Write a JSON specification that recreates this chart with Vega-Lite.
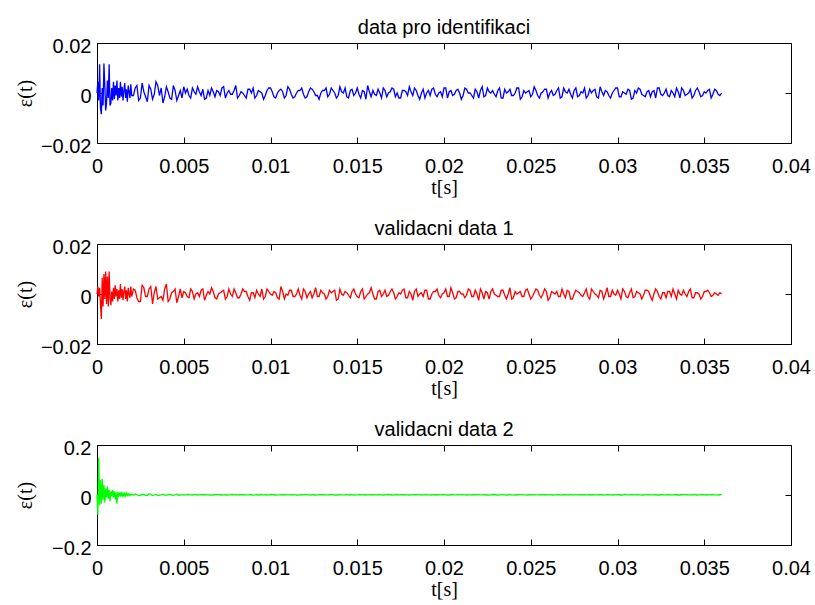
{
"$schema":"https://vega.github.io/schema/vega-lite/v6.json",
"autosize":{"type":"pad"},
"padding":{"left":14,"top":17,"right":0,"bottom":0},
"background":"white",
"spacing":101,
"bounds":"flush",
"config":{"view":{"stroke":"black","strokeWidth":1},"axis":{"grid":false,"domain":false,"labelFont":"Liberation Sans","labelFontSize":20,"labelColor":"black","tickColor":"black","tickSize":-6,"labelFlush":false,"labelOverlap":false,"titleFont":"Liberation Serif","titleFontSize":20,"titleFontWeight":"normal","titleColor":"black"},"title":{"font":"Liberation Sans","fontSize":20,"fontWeight":"normal","color":"black","offset":-2},"line":{"strokeWidth":1.3,"clip":true}},
"data":{"values":[
{"t":0,"a":0,"b":0,"c":0},
{"t":0.00005,"a":0.0045,"b":0.003,"c":-0.08},
{"t":0.0001,"a":-0.003,"b":-0.001,"c":0.15},
{"t":0.00015,"a":0.0115,"b":0.0025,"c":-0.04},
{"t":0.0002,"a":-0.006,"b":-0.004,"c":0.06},
{"t":0.00025,"a":-0.0085,"b":-0.01,"c":-0.035},
{"t":0.0003,"a":0.002,"b":0.0065,"c":0.065},
{"t":0.00035,"a":-0.005,"b":-0.005,"c":-0.02},
{"t":0.0004,"a":0.0118,"b":0.008,"c":0.04},
{"t":0.00045,"a":0.003,"b":-0.002,"c":-0.03},
{"t":0.0005,"a":-0.007,"b":0.009,"c":0.025},
{"t":0.00055,"a":-0.004,"b":-0.004,"c":-0.01},
{"t":0.0006,"a":0.005,"b":0.007,"c":0.035},
{"t":0.00065,"a":-0.002,"b":-0.005,"c":-0.015},
{"t":0.0007,"a":0.0115,"b":0.009,"c":0.02},
{"t":0.00075,"a":-0.005,"b":-0.0015,"c":-0.025},
{"t":0.0008,"a":-0.004,"b":-0.0045,"c":0.015},
{"t":0.00085,"a":0.002,"b":0.001,"c":-0.005},
{"t":0.0009,"a":-0.003,"b":-0.003,"c":0.02},
{"t":0.00095,"a":0.0045,"b":0.0025,"c":-0.01},
{"t":0.001,"a":-0.0025,"b":-0.002,"c":0.015},
{"t":0.00105,"a":0.003,"b":0.0035,"c":-0.018},
{"t":0.0011,"a":-0.001,"b":-0.001,"c":0.01},
{"t":0.00115,"a":0.005,"b":0.002,"c":-0.035},
{"t":0.0012,"a":-0.003,"b":-0.003,"c":0.012},
{"t":0.00125,"a":0.002,"b":0.0015,"c":-0.008},
{"t":0.0013,"a":-0.002,"b":-0.002,"c":0.01},
{"t":0.00135,"a":0.0045,"b":0.004,"c":-0.002},
{"t":0.0014,"a":-0.0015,"b":-0.0015,"c":0.008},
{"t":0.00145,"a":0.0025,"b":0.002,"c":-0.006},
{"t":0.0015,"a":-0.003,"b":-0.0025,"c":0.009},
{"t":0.00155,"a":0.001,"b":0.001,"c":-0.004},
{"t":0.0016,"a":0.004,"b":0.003,"c":0.006},
{"t":0.00165,"a":-0.002,"b":-0.002,"c":-0.003},
{"t":0.0017,"a":0.0015,"b":0.0015,"c":0.007},
{"t":0.00175,"a":-0.0035,"b":-0.003,"c":-0.002},
{"t":0.0018,"a":0.003,"b":0.0025,"c":0.005},
{"t":0.00185,"a":0.0005,"b":0,"c":-0.003},
{"t":0.0019,"a":-0.002,"b":-0.0015,"c":0.004},
{"t":0.00195,"a":0.0035,"b":0.003,"c":-0.001},
{"t":0.002,"a":-0.001,"b":-0.001,"c":0.003},
{"t":0.0021,"a":-0.001,"b":0.002,"c":-0.001},
{"t":0.0022,"a":0.002,"b":0.0015,"c":0.004},
{"t":0.0023,"a":0.003,"b":-0.0015,"c":0.002},
{"t":0.0024,"a":-0.003,"b":-0.003,"c":-0.002},
{"t":0.0025,"a":-0.002,"b":-0.003,"c":-0.0025},
{"t":0.0026,"a":0.004,"b":0.0035,"c":0.003},
{"t":0.0027,"a":0.0005,"b":0.0025,"c":0.0015},
{"t":0.0028,"a":-0.0015,"b":-0.001,"c":-0.001},
{"t":0.0029,"a":-0.0035,"b":-0.001,"c":-0.001},
{"t":0.003,"a":0.003,"b":0.002,"c":0.005},
{"t":0.0031,"a":0.0015,"b":0.003,"c":0.003},
{"t":0.0032,"a":-0.0025,"b":-0.004,"c":-0.002},
{"t":0.0033,"a":-0.0005,"b":0.0005,"c":0},
{"t":0.0034,"a":0.0045,"b":0.003,"c":0.002},
{"t":0.0035,"a":0.003,"b":-0.002,"c":-0.0015},
{"t":0.0036,"a":-0.001,"b":-0.0015,"c":-0.001},
{"t":0.0037,"a":0.002,"b":-0.001,"c":0.001},
{"t":0.0038,"a":-0.004,"b":-0.0025,"c":0.003},
{"t":0.0039,"a":-0.0015,"b":0.002,"c":-0.0005},
{"t":0.004,"a":0.0025,"b":0.004,"c":-0.0015},
{"t":0.0041,"a":0.0005,"b":-0.003,"c":0.0025},
{"t":0.0042,"a":-0.002,"b":-0.002,"c":0.002},
{"t":0.0043,"a":-0.0025,"b":0.0005,"c":0},
{"t":0.0044,"a":0.003,"b":0.001,"c":-0.001},
{"t":0.0045,"a":0.001,"b":0.002,"c":0.001},
{"t":0.0046,"a":-0.003,"b":-0.0035,"c":0.004},
{"t":0.0047,"a":-0.001,"b":-0.001,"c":-0.001},
{"t":0.0048,"a":0.001,"b":0.002,"c":0},
{"t":0.0049,"a":-0.002,"b":-0.0015,"c":0.0005},
{"t":0.005,"a":0.0025,"b":0.001,"c":0.0015},
{"t":0.0051,"a":0,"b":0.0005,"c":0.0005},
{"t":0.0052,"a":0.0015,"b":-0.001,"c":0.001},
{"t":0.0053,"a":-0.001,"b":-0.0015,"c":0.001},
{"t":0.0054,"a":-0.002,"b":0.002,"c":0.0005},
{"t":0.0055,"a":0.002,"b":0.001,"c":0},
{"t":0.0056,"a":0.0005,"b":-0.002,"c":0.0015},
{"t":0.0057,"a":-0.0005,"b":0,"c":0.0015},
{"t":0.0058,"a":0.0025,"b":0.0005,"c":0},
{"t":0.0059,"a":0.0005,"b":-0.001,"c":0.0005},
{"t":0.006,"a":-0.001,"b":0.0015,"c":0.001},
{"t":0.0061,"a":0.0015,"b":0.002,"c":0.001},
{"t":0.0062,"a":-0.0025,"b":-0.0025,"c":0.002},
{"t":0.0063,"a":-0.002,"b":-0.0005,"c":0.0005},
{"t":0.0064,"a":0.001,"b":0.001,"c":0.0005},
{"t":0.0065,"a":-0.001,"b":0,"c":0},
{"t":0.0066,"a":0.002,"b":0.0025,"c":-0.0005},
{"t":0.0067,"a":0.0005,"b":0.001,"c":0.001},
{"t":0.0068,"a":-0.0015,"b":-0.0015,"c":0.001},
{"t":0.0069,"a":0.001,"b":-0.002,"c":0.0015},
{"t":0.007,"a":0.0005,"b":0,"c":0.0015},
{"t":0.0071,"a":-0.001,"b":0.0005,"c":0.001},
{"t":0.0072,"a":0.002,"b":0.001,"c":0},
{"t":0.0073,"a":0.0025,"b":0.0015,"c":0.0005},
{"t":0.0074,"a":-0.002,"b":-0.002,"c":0.001},
{"t":0.0075,"a":0,"b":-0.001,"c":0},
{"t":0.0076,"a":0.001,"b":0.002,"c":0.0005},
{"t":0.0077,"a":-0.0005,"b":0,"c":0.001},
{"t":0.0078,"a":-0.0005,"b":-0.001,"c":0.002},
{"t":0.0079,"a":0.001,"b":0.002,"c":0.0005},
{"t":0.008,"a":0.003,"b":0.0005,"c":0.001},
{"t":0.0081,"a":-0.002,"b":-0.0015,"c":0.0015},
{"t":0.0082,"a":-0.001,"b":-0.0015,"c":0},
{"t":0.0083,"a":0.0005,"b":0,"c":0.001},
{"t":0.0084,"a":0,"b":0.002,"c":0.0015},
{"t":0.0085,"a":-0.001,"b":0.001,"c":0},
{"t":0.0086,"a":-0.002,"b":0.001,"c":0.0005},
{"t":0.0087,"a":0.0015,"b":-0.001,"c":0.0005},
{"t":0.0088,"a":0.0015,"b":-0.0025,"c":0.001},
{"t":0.0089,"a":0,"b":0.0005,"c":0.001},
{"t":0.009,"a":0.002,"b":0.0005,"c":-0.0005},
{"t":0.0091,"a":-0.002,"b":-0.0015,"c":0.0005},
{"t":0.0092,"a":-0.001,"b":0.0015,"c":0.001},
{"t":0.0093,"a":0.001,"b":0,"c":0},
{"t":0.0094,"a":0.0005,"b":-0.001,"c":0.0015},
{"t":0.0095,"a":0,"b":0.002,"c":0.001},
{"t":0.0096,"a":-0.0025,"b":-0.002,"c":0.0005},
{"t":0.0097,"a":-0.001,"b":-0.001,"c":0.0015},
{"t":0.0098,"a":0.001,"b":0.002,"c":0},
{"t":0.0099,"a":0.002,"b":0.001,"c":0.0005},
{"t":0.01,"a":0.002,"b":0,"c":0.002},
{"t":0.0101,"a":0.0005,"b":-0.0005,"c":0.001},
{"t":0.0102,"a":-0.0015,"b":0.001,"c":0.001},
{"t":0.0103,"a":-0.002,"b":0.0005,"c":0},
{"t":0.0104,"a":0,"b":-0.0015,"c":0.0005},
{"t":0.0105,"a":0.001,"b":-0.002,"c":0.0005},
{"t":0.0106,"a":0.0015,"b":0.003,"c":0.001},
{"t":0.0107,"a":0.0005,"b":0.001,"c":0.001},
{"t":0.0108,"a":-0.002,"b":-0.002,"c":0},
{"t":0.0109,"a":-0.001,"b":0,"c":0.0015},
{"t":0.011,"a":0.0025,"b":-0.0005,"c":0.0015},
{"t":0.0111,"a":0.0015,"b":0.0015,"c":0.0005},
{"t":0.0112,"a":-0.0005,"b":0.0015,"c":0.001},
{"t":0.0113,"a":-0.002,"b":-0.001,"c":0.001},
{"t":0.0114,"a":-0.0015,"b":-0.001,"c":0.0005},
{"t":0.0115,"a":0,"b":0,"c":0},
{"t":0.0116,"a":0.001,"b":0.002,"c":-0.0005},
{"t":0.0117,"a":0.001,"b":-0.0005,"c":0.001},
{"t":0.0118,"a":0.002,"b":-0.002,"c":0.001},
{"t":0.0119,"a":-0.0005,"b":0.002,"c":0.0005},
{"t":0.012,"a":-0.002,"b":0.001,"c":0.002},
{"t":0.0121,"a":-0.0015,"b":-0.0015,"c":0.0015},
{"t":0.0122,"a":0.0005,"b":0,"c":0.0005},
{"t":0.0123,"a":0.002,"b":0.001,"c":0},
{"t":0.0124,"a":0.0015,"b":-0.0015,"c":0.001},
{"t":0.0125,"a":0.0005,"b":0,"c":0.001},
{"t":0.0126,"a":-0.001,"b":0.0025,"c":0},
{"t":0.0127,"a":-0.001,"b":-0.001,"c":0.0005},
{"t":0.0128,"a":-0.0025,"b":-0.001,"c":0.0015},
{"t":0.0129,"a":0,"b":0.0015,"c":0.001},
{"t":0.013,"a":0.001,"b":0.0005,"c":0.001},
{"t":0.0131,"a":0.001,"b":0,"c":0.001},
{"t":0.0132,"a":0.002,"b":-0.002,"c":0.0005},
{"t":0.0133,"a":-0.0015,"b":-0.001,"c":0.0005},
{"t":0.0134,"a":-0.0005,"b":0.0015,"c":0.001},
{"t":0.0135,"a":0.002,"b":0.0005,"c":0.0015},
{"t":0.0136,"a":0.001,"b":0.001,"c":0.0015},
{"t":0.0137,"a":0,"b":0.0015,"c":0},
{"t":0.0138,"a":-0.002,"b":-0.0025,"c":0},
{"t":0.0139,"a":-0.001,"b":-0.002,"c":0.001},
{"t":0.014,"a":0.0025,"b":0.002,"c":0.001},
{"t":0.0141,"a":0.0005,"b":0,"c":0.0005},
{"t":0.0142,"a":0,"b":-0.0005,"c":0.0005},
{"t":0.0143,"a":0.002,"b":0.001,"c":0.001},
{"t":0.0144,"a":-0.0015,"b":0.0005,"c":0.002},
{"t":0.0145,"a":-0.002,"b":-0.0005,"c":0},
{"t":0.0146,"a":0.001,"b":-0.0015,"c":0.001},
{"t":0.0147,"a":0.0015,"b":0.001,"c":0.0015},
{"t":0.0148,"a":-0.001,"b":0.002,"c":0},
{"t":0.0149,"a":0,"b":0,"c":0.0005},
{"t":0.015,"a":0.002,"b":-0.001,"c":0.0005},
{"t":0.0151,"a":-0.0005,"b":-0.0015,"c":0.001},
{"t":0.0152,"a":-0.002,"b":0.001,"c":0.0015},
{"t":0.0153,"a":0.001,"b":0.002,"c":0.0005},
{"t":0.0154,"a":0.0005,"b":-0.002,"c":0.001},
{"t":0.0155,"a":-0.0025,"b":-0.001,"c":0},
{"t":0.0156,"a":0.003,"b":0,"c":0.0005},
{"t":0.0157,"a":0.0005,"b":0.0005,"c":0.001},
{"t":0.0158,"a":-0.0015,"b":0.0025,"c":0},
{"t":0.0159,"a":0.001,"b":0,"c":0.0015},
{"t":0.016,"a":-0.0005,"b":-0.002,"c":0.001},
{"t":0.0161,"a":-0.001,"b":-0.002,"c":0.0005},
{"t":0.0162,"a":0.0015,"b":0.001,"c":0.0015},
{"t":0.0163,"a":0,"b":0.0015,"c":0.001},
{"t":0.0164,"a":-0.002,"b":-0.001,"c":0.0005},
{"t":0.0165,"a":0.002,"b":0,"c":0},
{"t":0.0166,"a":0.001,"b":0.0015,"c":0.001},
{"t":0.0167,"a":-0.0015,"b":-0.001,"c":0.0005},
{"t":0.0168,"a":0,"b":-0.0005,"c":0.002},
{"t":0.0169,"a":0.0005,"b":0.001,"c":0.001},
{"t":0.017,"a":0.002,"b":0.002,"c":0},
{"t":0.0171,"a":0.0015,"b":0.0005,"c":0.0005},
{"t":0.0172,"a":-0.0015,"b":-0.002,"c":0.001},
{"t":0.0173,"a":0,"b":-0.001,"c":0.0015},
{"t":0.0174,"a":-0.002,"b":0.0005,"c":0.0005},
{"t":0.0175,"a":-0.002,"b":0,"c":0.001},
{"t":0.0176,"a":0.001,"b":0.0015,"c":0.001},
{"t":0.0177,"a":0.001,"b":0.002,"c":0},
{"t":0.0178,"a":0.0005,"b":-0.0015,"c":0.0015},
{"t":0.0179,"a":-0.001,"b":-0.0015,"c":0.0005},
{"t":0.018,"a":0.0025,"b":0.001,"c":0},
{"t":0.0181,"a":0.0005,"b":0,"c":0.001},
{"t":0.0182,"a":-0.001,"b":-0.0025,"c":0.0005},
{"t":0.0183,"a":0.002,"b":0.001,"c":0.0015},
{"t":0.0184,"a":0.001,"b":0.002,"c":0.001},
{"t":0.0185,"a":-0.001,"b":-0.001,"c":0.0005},
{"t":0.0186,"a":-0.0025,"b":0,"c":0.002},
{"t":0.0187,"a":0,"b":0.0005,"c":0},
{"t":0.0188,"a":0.0015,"b":-0.001,"c":0.0005},
{"t":0.0189,"a":-0.002,"b":0.0015,"c":0.001},
{"t":0.019,"a":0,"b":0.0015,"c":0.001},
{"t":0.0191,"a":0.001,"b":-0.002,"c":0.0005},
{"t":0.0192,"a":-0.001,"b":-0.002,"c":0},
{"t":0.0193,"a":0.0015,"b":0,"c":0.001},
{"t":0.0194,"a":0.002,"b":0.001,"c":0.0015},
{"t":0.0195,"a":-0.0005,"b":0.001,"c":0},
{"t":0.0196,"a":-0.0015,"b":0.002,"c":0.001},
{"t":0.0197,"a":0,"b":-0.0005,"c":0.0015},
{"t":0.0198,"a":0.0005,"b":-0.0015,"c":0.0005},
{"t":0.0199,"a":-0.0015,"b":0,"c":0.001},
{"t":0.02,"a":0.002,"b":0.0005,"c":0.001},
{"t":0.0201,"a":0.002,"b":0.002,"c":0.0005},
{"t":0.0202,"a":-0.002,"b":-0.001,"c":0},
{"t":0.0203,"a":0.0005,"b":-0.001,"c":0},
{"t":0.0204,"a":0.001,"b":0.0025,"c":0.0015},
{"t":0.0205,"a":-0.001,"b":0.0005,"c":0.001},
{"t":0.0206,"a":-0.0005,"b":-0.002,"c":0.0005},
{"t":0.0207,"a":0.001,"b":-0.0015,"c":0.0005},
{"t":0.0208,"a":0.0015,"b":0.001,"c":0.001},
{"t":0.0209,"a":0,"b":0.001,"c":0.0015},
{"t":0.021,"a":-0.0025,"b":0,"c":0.002},
{"t":0.0211,"a":-0.001,"b":0,"c":0.001},
{"t":0.0212,"a":0.002,"b":-0.0015,"c":0.0005},
{"t":0.0213,"a":0.0015,"b":-0.0005,"c":0},
{"t":0.0214,"a":0,"b":0.002,"c":0.001},
{"t":0.0215,"a":0,"b":0.0015,"c":0.0005},
{"t":0.0216,"a":-0.001,"b":-0.001,"c":0},
{"t":0.0217,"a":-0.002,"b":-0.001,"c":0.001},
{"t":0.0218,"a":0.0015,"b":0.0015,"c":0.001},
{"t":0.0219,"a":0.0005,"b":0,"c":0.0015},
{"t":0.022,"a":-0.002,"b":-0.0025,"c":0.0015},
{"t":0.0221,"a":0.001,"b":0.002,"c":0.0005},
{"t":0.0222,"a":0.0025,"b":0.0005,"c":0.0005},
{"t":0.0223,"a":-0.0015,"b":-0.002,"c":0.001},
{"t":0.0224,"a":-0.001,"b":0.001,"c":0.001},
{"t":0.0225,"a":0.002,"b":0.0005,"c":0},
{"t":0.0226,"a":0.0005,"b":-0.002,"c":0},
{"t":0.0227,"a":0,"b":0.001,"c":0.0005},
{"t":0.0228,"a":0.001,"b":0.002,"c":0.002},
{"t":0.0229,"a":-0.0005,"b":0,"c":0.001},
{"t":0.023,"a":-0.0015,"b":-0.0005,"c":0.001},
{"t":0.0231,"a":0.001,"b":-0.001,"c":0},
{"t":0.0232,"a":0.002,"b":-0.001,"c":0.0005},
{"t":0.0233,"a":-0.002,"b":0.0015,"c":0.0015},
{"t":0.0234,"a":-0.002,"b":0.0015,"c":0.0015},
{"t":0.0235,"a":0.0015,"b":-0.0005,"c":0.0005},
{"t":0.0236,"a":0,"b":-0.002,"c":0},
{"t":0.0237,"a":0.0005,"b":0,"c":0.001},
{"t":0.0238,"a":0.0015,"b":0.0025,"c":0.001},
{"t":0.0239,"a":-0.001,"b":-0.002,"c":0.0005},
{"t":0.024,"a":-0.001,"b":-0.0015,"c":0.0005},
{"t":0.0241,"a":0,"b":0.001,"c":0},
{"t":0.0242,"a":0.002,"b":0,"c":0.001},
{"t":0.0243,"a":0.002,"b":0.0005,"c":0.001},
{"t":0.0244,"a":-0.0025,"b":0.001,"c":0.0015},
{"t":0.0245,"a":-0.0015,"b":-0.001,"c":0.0015},
{"t":0.0246,"a":0.001,"b":-0.001,"c":0.0005},
{"t":0.0247,"a":0,"b":0.0015,"c":0.0005},
{"t":0.0248,"a":0.0005,"b":0.002,"c":0},
{"t":0.0249,"a":0.001,"b":0,"c":0.001},
{"t":0.025,"a":-0.0015,"b":-0.002,"c":0.001},
{"t":0.0251,"a":-0.0005,"b":-0.001,"c":0},
{"t":0.0252,"a":0.0025,"b":0.0005,"c":0.002},
{"t":0.0253,"a":0.001,"b":0.002,"c":0.0005},
{"t":0.0254,"a":-0.001,"b":0.0015,"c":0.0005},
{"t":0.0255,"a":-0.002,"b":-0.0005,"c":0.001},
{"t":0.0256,"a":0,"b":-0.0015,"c":0.001},
{"t":0.0257,"a":0.0005,"b":0,"c":0.0015},
{"t":0.0258,"a":0.0015,"b":0.002,"c":0},
{"t":0.0259,"a":0.0015,"b":0.001,"c":0.001},
{"t":0.026,"a":-0.002,"b":-0.0025,"c":0.0015},
{"t":0.0261,"a":0,"b":-0.0015,"c":0.0005},
{"t":0.0262,"a":0.001,"b":0.001,"c":0.001},
{"t":0.0263,"a":-0.001,"b":0.0005,"c":0},
{"t":0.0264,"a":-0.0005,"b":0,"c":0.0005},
{"t":0.0265,"a":0.001,"b":0.001,"c":0.001},
{"t":0.0266,"a":0.002,"b":-0.001,"c":0.001},
{"t":0.0267,"a":-0.002,"b":-0.001,"c":0.0005},
{"t":0.0268,"a":-0.0015,"b":0.002,"c":0},
{"t":0.0269,"a":0.002,"b":0,"c":0.0015},
{"t":0.027,"a":0.0005,"b":-0.0015,"c":0.001},
{"t":0.0271,"a":0,"b":0.0015,"c":0.0005},
{"t":0.0272,"a":0.0015,"b":0.001,"c":0.0015},
{"t":0.0273,"a":-0.0005,"b":-0.002,"c":0.001},
{"t":0.0274,"a":-0.002,"b":-0.002,"c":0.0005},
{"t":0.0275,"a":0.001,"b":0,"c":0},
{"t":0.0276,"a":0.002,"b":0.0015,"c":0.002},
{"t":0.0277,"a":-0.0015,"b":0.001,"c":0.0005},
{"t":0.0278,"a":-0.001,"b":0.0005,"c":0.001},
{"t":0.0279,"a":0.0005,"b":-0.0005,"c":0.001},
{"t":0.028,"a":0,"b":-0.001,"c":0},
{"t":0.0281,"a":0.002,"b":0.0005,"c":0.0015},
{"t":0.0282,"a":-0.002,"b":0.002,"c":0.0005},
{"t":0.0283,"a":-0.001,"b":-0.001,"c":0.001},
{"t":0.0284,"a":0.0015,"b":-0.002,"c":0.001},
{"t":0.0285,"a":0,"b":0.002,"c":0},
{"t":0.0286,"a":0.001,"b":0.001,"c":0.0015},
{"t":0.0287,"a":0.0015,"b":0,"c":0.0005},
{"t":0.0288,"a":-0.0015,"b":-0.0005,"c":0.0005},
{"t":0.0289,"a":-0.002,"b":-0.0015,"c":0.001},
{"t":0.029,"a":0.0025,"b":0.0015,"c":0.001},
{"t":0.0291,"a":0.0005,"b":0.001,"c":0.0015},
{"t":0.0292,"a":-0.001,"b":-0.002,"c":0},
{"t":0.0293,"a":0.001,"b":0,"c":0.0005},
{"t":0.0294,"a":0.0005,"b":0.0025,"c":0.001},
{"t":0.0295,"a":-0.001,"b":-0.001,"c":0.001},
{"t":0.0296,"a":-0.002,"b":-0.001,"c":0.0005},
{"t":0.0297,"a":0,"b":0.0015,"c":0},
{"t":0.0298,"a":0.001,"b":0,"c":0.0015},
{"t":0.0299,"a":0.002,"b":-0.0005,"c":0.0005},
{"t":0.03,"a":0.002,"b":0.0015,"c":0.001},
{"t":0.0301,"a":-0.0015,"b":0,"c":0.001},
{"t":0.0302,"a":-0.0015,"b":-0.002,"c":0},
{"t":0.0303,"a":0.0005,"b":0.002,"c":0},
{"t":0.0304,"a":0,"b":0.001,"c":0.002},
{"t":0.0305,"a":-0.0005,"b":-0.001,"c":0.0015},
{"t":0.0306,"a":0.0015,"b":-0.0015,"c":0.0005},
{"t":0.0307,"a":0.001,"b":0.0005,"c":0.0005},
{"t":0.0308,"a":-0.0025,"b":0.002,"c":0.001},
{"t":0.0309,"a":-0.002,"b":-0.0015,"c":0.001},
{"t":0.031,"a":0.001,"b":-0.001,"c":0.0005},
{"t":0.0311,"a":0,"b":0.001,"c":0.001},
{"t":0.0312,"a":0.002,"b":0.0005,"c":0.001},
{"t":0.0313,"a":0.0015,"b":0,"c":0.0005},
{"t":0.0314,"a":-0.0005,"b":-0.002,"c":0},
{"t":0.0315,"a":-0.001,"b":-0.0005,"c":0},
{"t":0.0316,"a":-0.0015,"b":0.0015,"c":0.0015},
{"t":0.0317,"a":0.0005,"b":0.0015,"c":0.0015},
{"t":0.0318,"a":0.001,"b":0.001,"c":0.001},
{"t":0.0319,"a":-0.0015,"b":-0.001,"c":0.0005},
{"t":0.032,"a":0.0005,"b":-0.0025,"c":0.0005},
{"t":0.0321,"a":0.001,"b":0,"c":0.001},
{"t":0.0322,"a":-0.002,"b":0.002,"c":0.001},
{"t":0.0323,"a":0.002,"b":0.001,"c":0},
{"t":0.0324,"a":0.002,"b":-0.001,"c":0},
{"t":0.0325,"a":-0.0005,"b":-0.002,"c":0.001},
{"t":0.0326,"a":-0.001,"b":0.0005,"c":0.0015},
{"t":0.0327,"a":0,"b":0.0005,"c":0.0005},
{"t":0.0328,"a":0.0015,"b":-0.0015,"c":0.0005},
{"t":0.0329,"a":-0.001,"b":0.001,"c":0.0015},
{"t":0.033,"a":-0.0015,"b":0.001,"c":0.001},
{"t":0.0331,"a":0.001,"b":-0.001,"c":0.0005},
{"t":0.0332,"a":0,"b":0.002,"c":0.0005},
{"t":0.0333,"a":-0.0015,"b":0,"c":0.001},
{"t":0.0334,"a":0.002,"b":-0.002,"c":0.001},
{"t":0.0335,"a":0.0005,"b":0.0015,"c":0},
{"t":0.0336,"a":-0.002,"b":0,"c":0},
{"t":0.0337,"a":0.002,"b":-0.0005,"c":0.001},
{"t":0.0338,"a":0.001,"b":0.0015,"c":0.0015},
{"t":0.0339,"a":-0.001,"b":0,"c":0.0015},
{"t":0.034,"a":-0.0005,"b":-0.001,"c":0.001},
{"t":0.0341,"a":0,"b":0.001,"c":0.0005},
{"t":0.0342,"a":0.0015,"b":0.002,"c":0.0005},
{"t":0.0343,"a":-0.002,"b":-0.0015,"c":0},
{"t":0.0344,"a":-0.001,"b":-0.0015,"c":0.002},
{"t":0.0345,"a":0.001,"b":0.0005,"c":0.001},
{"t":0.0346,"a":0.002,"b":0.0005,"c":0},
{"t":0.0347,"a":0.0005,"b":0,"c":0.0005},
{"t":0.0348,"a":-0.0015,"b":-0.002,"c":0.001},
{"t":0.0349,"a":-0.001,"b":-0.001,"c":0.001},
{"t":0.035,"a":0.0005,"b":0.001,"c":0.0005},
{"t":0.0351,"a":0,"b":0.001,"c":0},
{"t":0.0352,"a":0.001,"b":0.0015,"c":0.001},
{"t":0.0353,"a":0.0015,"b":0.0005,"c":0.0005},
{"t":0.0354,"a":-0.002,"b":-0.001,"c":0.0015},
{"t":0.0355,"a":-0.0005,"b":-0.0005,"c":0.001},
{"t":0.0356,"a":0.0015,"b":0.0005,"c":0.0005},
{"t":0.0357,"a":0.001,"b":0,"c":0.0005},
{"t":0.0358,"a":-0.0005,"b":-0.0005,"c":0},
{"t":0.0359,"a":-0.001,"b":0.0005,"c":0.001},
{"t":0.036,"a":0,"b":0,"c":0.001}
]},
"vconcat":[
{"title":{"text":"data pro identifikaci"},"width":694,"height":100,
 "layer":[
  {"mark":{"type":"line","color":"#0000ff"},
   "encoding":{"x":{"field":"t","type":"quantitative","scale":{"domain":[0,0.04],"nice":false,"zero":false},"axis":{"orient":"bottom","values":[0,0.005,0.01,0.015,0.02,0.025,0.03,0.035,0.04],"format":"~g","labelPadding":19,"title":"t[s]","titleX":347,"titleY":44,"titleBaseline":"middle","titleAlign":"center"}},
               "y":{"field":"a","type":"quantitative","scale":{"domain":[-0.02,0.02],"nice":false},"axis":{"orient":"left","values":[-0.02,0,0.02],"format":"~g","labelPadding":12,"labelOffset":3,"title":"ε(t)","titleX":-72,"titleY":50,"titleAngle":270,"titleAlign":"center","titleBaseline":"middle"}},
               "order":{"field":"t","type":"quantitative"}}},
  {"mark":{"type":"line","opacity":0},
   "encoding":{"x":{"field":"t","type":"quantitative","axis":{"orient":"top","values":[0,0.005,0.01,0.015,0.02,0.025,0.03,0.035,0.04],"labels":false,"title":null}},
               "y":{"field":"a","type":"quantitative","axis":{"orient":"right","values":[-0.02,0,0.02],"labels":false,"title":null}}}}
 ],
 "resolve":{"axis":{"x":"independent","y":"independent"}}},
{"title":{"text":"validacni data 1"},"width":694,"height":100,
 "layer":[
  {"mark":{"type":"line","color":"#ff0000"},
   "encoding":{"x":{"field":"t","type":"quantitative","scale":{"domain":[0,0.04],"nice":false,"zero":false},"axis":{"orient":"bottom","values":[0,0.005,0.01,0.015,0.02,0.025,0.03,0.035,0.04],"format":"~g","labelPadding":19,"title":"t[s]","titleX":347,"titleY":44,"titleBaseline":"middle","titleAlign":"center"}},
               "y":{"field":"b","type":"quantitative","scale":{"domain":[-0.02,0.02],"nice":false},"axis":{"orient":"left","values":[-0.02,0,0.02],"format":"~g","labelPadding":12,"labelOffset":3,"title":"ε(t)","titleX":-72,"titleY":50,"titleAngle":270,"titleAlign":"center","titleBaseline":"middle"}},
               "order":{"field":"t","type":"quantitative"}}},
  {"mark":{"type":"line","opacity":0},
   "encoding":{"x":{"field":"t","type":"quantitative","axis":{"orient":"top","values":[0,0.005,0.01,0.015,0.02,0.025,0.03,0.035,0.04],"labels":false,"title":null}},
               "y":{"field":"b","type":"quantitative","axis":{"orient":"right","values":[-0.02,0,0.02],"labels":false,"title":null}}}}
 ],
 "resolve":{"axis":{"x":"independent","y":"independent"}}},
{"title":{"text":"validacni data 2"},"width":694,"height":100,
 "layer":[
  {"mark":{"type":"line","color":"#00ff00"},
   "encoding":{"x":{"field":"t","type":"quantitative","scale":{"domain":[0,0.04],"nice":false,"zero":false},"axis":{"orient":"bottom","values":[0,0.005,0.01,0.015,0.02,0.025,0.03,0.035,0.04],"format":"~g","labelPadding":19,"title":"t[s]","titleX":347,"titleY":44,"titleBaseline":"middle","titleAlign":"center"}},
               "y":{"field":"c","type":"quantitative","scale":{"domain":[-0.2,0.2],"nice":false},"axis":{"orient":"left","values":[-0.2,0,0.2],"format":"~g","labelPadding":12,"labelOffset":3,"title":"ε(t)","titleX":-72,"titleY":50,"titleAngle":270,"titleAlign":"center","titleBaseline":"middle"}},
               "order":{"field":"t","type":"quantitative"}}},
  {"mark":{"type":"line","opacity":0},
   "encoding":{"x":{"field":"t","type":"quantitative","axis":{"orient":"top","values":[0,0.005,0.01,0.015,0.02,0.025,0.03,0.035,0.04],"labels":false,"title":null}},
               "y":{"field":"c","type":"quantitative","axis":{"orient":"right","values":[-0.2,0,0.2],"labels":false,"title":null}}}}
 ],
 "resolve":{"axis":{"x":"independent","y":"independent"}}}
]
}
